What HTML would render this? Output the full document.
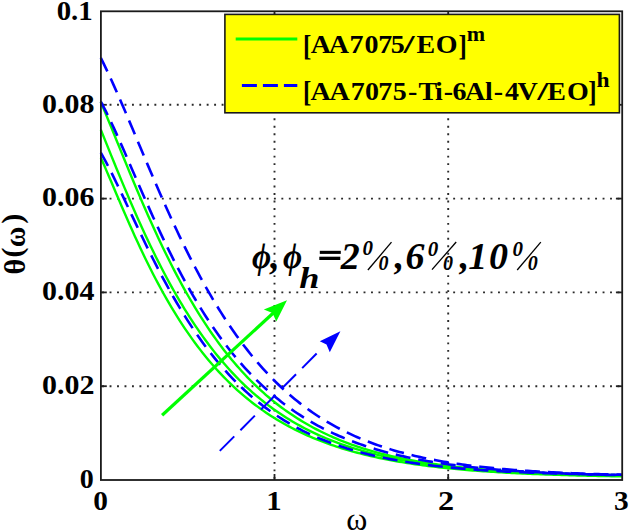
<!DOCTYPE html>
<html><head><meta charset="utf-8"><style>
html,body{margin:0;padding:0;background:#fff;}
body{width:629px;height:532px;overflow:hidden;position:relative;}
svg{position:absolute;left:0;top:0;}
text{font-family:"Liberation Serif",serif;}
</style></head><body>
<svg width="629" height="532" viewBox="0 0 629 532">
<line x1="102.10" y1="386.20" x2="621.90" y2="386.20" stroke="#2a2a2a" stroke-width="1.9" stroke-dasharray="1.9 5.57"/>
<line x1="102.10" y1="292.40" x2="621.90" y2="292.40" stroke="#2a2a2a" stroke-width="1.9" stroke-dasharray="1.9 5.57"/>
<line x1="102.10" y1="198.60" x2="621.90" y2="198.60" stroke="#2a2a2a" stroke-width="1.9" stroke-dasharray="1.9 5.57"/>
<line x1="102.10" y1="104.80" x2="621.90" y2="104.80" stroke="#2a2a2a" stroke-width="1.9" stroke-dasharray="1.9 5.57"/>
<line x1="274.50" y1="478.80" x2="274.50" y2="11.00" stroke="#2a2a2a" stroke-width="1.9" stroke-dasharray="1.9 5.57"/>
<line x1="448.20" y1="478.80" x2="448.20" y2="11.00" stroke="#2a2a2a" stroke-width="1.9" stroke-dasharray="1.9 5.57"/>
<line x1="100.80" y1="386.20" x2="106.80" y2="386.20" stroke="#222" stroke-width="1.8"/>
<line x1="615.90" y1="386.20" x2="621.90" y2="386.20" stroke="#222" stroke-width="1.8"/>
<line x1="100.80" y1="292.40" x2="106.80" y2="292.40" stroke="#222" stroke-width="1.8"/>
<line x1="615.90" y1="292.40" x2="621.90" y2="292.40" stroke="#222" stroke-width="1.8"/>
<line x1="100.80" y1="198.60" x2="106.80" y2="198.60" stroke="#222" stroke-width="1.8"/>
<line x1="615.90" y1="198.60" x2="621.90" y2="198.60" stroke="#222" stroke-width="1.8"/>
<line x1="100.80" y1="104.80" x2="106.80" y2="104.80" stroke="#222" stroke-width="1.8"/>
<line x1="615.90" y1="104.80" x2="621.90" y2="104.80" stroke="#222" stroke-width="1.8"/>
<line x1="274.50" y1="480.00" x2="274.50" y2="474.00" stroke="#222" stroke-width="1.8"/>
<line x1="274.50" y1="11.00" x2="274.50" y2="17.00" stroke="#222" stroke-width="1.8"/>
<line x1="448.20" y1="480.00" x2="448.20" y2="474.00" stroke="#222" stroke-width="1.8"/>
<line x1="448.20" y1="11.00" x2="448.20" y2="17.00" stroke="#222" stroke-width="1.8"/>
<polyline fill="none" stroke="#00ff00" stroke-width="2.4" stroke-linejoin="round" points="100.80,101.98 103.42,108.26 106.04,114.59 108.66,120.97 111.27,127.37 113.89,133.80 116.51,140.24 119.13,146.67 121.75,153.10 124.37,159.50 126.99,165.88 129.60,172.22 132.22,178.52 134.84,184.78 137.46,190.98 140.08,197.12 142.70,203.20 145.32,209.21 147.93,215.16 150.55,221.02 153.17,226.81 155.79,232.52 158.41,238.15 161.03,243.69 163.65,249.15 166.26,254.52 168.88,259.80 171.50,264.99 174.12,270.09 176.74,275.10 179.36,280.02 181.98,284.85 184.59,289.58 187.21,294.22 189.83,298.77 192.45,303.23 195.07,307.60 197.69,311.88 200.31,316.07 202.93,320.17 205.54,324.19 208.16,328.11 210.78,331.95 213.40,335.71 216.02,339.38 218.64,342.97 221.26,346.47 223.87,349.90 226.49,353.24 229.11,356.51 231.73,359.70 234.35,362.82 236.97,365.86 239.59,368.83 242.20,371.72 244.82,374.55 247.44,377.31 250.06,380.00 252.68,382.62 255.30,385.18 257.92,387.67 260.53,390.10 263.15,392.47 265.77,394.78 268.39,397.03 271.01,399.22 273.63,401.36 276.25,403.44 278.86,405.47 281.48,407.44 284.10,409.36 286.72,411.24 289.34,413.06 291.96,414.84 294.58,416.57 297.19,418.25 299.81,419.89 302.43,421.48 305.05,423.03 307.67,424.54 310.29,426.01 312.91,427.44 315.52,428.84 318.14,430.19 320.76,431.51 323.38,432.79 326.00,434.04 328.62,435.25 331.24,436.43 333.85,437.58 336.47,438.69 339.09,439.78 341.71,440.83 344.33,441.86 346.95,442.85 349.57,443.82 352.18,444.77 354.80,445.68 357.42,446.57 360.04,447.44 362.66,448.28 365.28,449.10 367.90,449.90 370.52,450.67 373.13,451.42 375.75,452.15 378.37,452.86 380.99,453.55 383.61,454.22 386.23,454.87 388.85,455.50 391.46,456.12 394.08,456.71 396.70,457.29 399.32,457.86 401.94,458.41 404.56,458.94 407.18,459.45 409.79,459.96 412.41,460.44 415.03,460.92 417.65,461.38 420.27,461.82 422.89,462.26 425.51,462.68 428.12,463.09 430.74,463.49 433.36,463.87 435.98,464.25 438.60,464.61 441.22,464.97 443.84,465.31 446.45,465.64 449.07,465.97 451.69,466.28 454.31,466.59 456.93,466.88 459.55,467.17 462.17,467.45 464.78,467.72 467.40,467.98 470.02,468.24 472.64,468.49 475.26,468.73 477.88,468.96 480.50,469.19 483.11,469.41 485.73,469.62 488.35,469.83 490.97,470.03 493.59,470.23 496.21,470.42 498.83,470.60 501.44,470.78 504.06,470.96 506.68,471.13 509.30,471.29 511.92,471.45 514.54,471.60 517.16,471.75 519.77,471.90 522.39,472.04 525.01,472.18 527.63,472.31 530.25,472.44 532.87,472.56 535.49,472.68 538.11,472.80 540.72,472.92 543.34,473.03 545.96,473.13 548.58,473.24 551.20,473.34 553.82,473.44 556.44,473.53 559.05,473.63 561.67,473.72 564.29,473.80 566.91,473.89 569.53,473.97 572.15,474.05 574.77,474.13 577.38,474.20 580.00,474.28 582.62,474.35 585.24,474.41 587.86,474.48 590.48,474.55 593.10,474.61 595.71,474.67 598.33,474.73 600.95,474.78 603.57,474.84 606.19,474.89 608.81,474.95 611.43,475.00 614.04,475.05 616.66,475.09 619.28,475.14 621.90,475.18"/>
<polyline fill="none" stroke="#00ff00" stroke-width="2.4" stroke-linejoin="round" points="100.80,129.63 103.42,136.14 106.04,142.65 108.66,149.15 111.27,155.62 113.89,162.06 116.51,168.47 119.13,174.83 121.75,181.13 124.37,187.39 126.99,193.58 129.60,199.71 132.22,205.76 134.84,211.75 137.46,217.66 140.08,223.48 142.70,229.23 145.32,234.89 147.93,240.47 150.55,245.95 153.17,251.35 155.79,256.66 158.41,261.88 161.03,267.01 163.65,272.04 166.26,276.99 168.88,281.84 171.50,286.59 174.12,291.26 176.74,295.83 179.36,300.32 181.98,304.71 184.59,309.01 187.21,313.22 189.83,317.35 192.45,321.38 195.07,325.33 197.69,329.19 200.31,332.97 202.93,336.66 205.54,340.27 208.16,343.80 210.78,347.25 213.40,350.62 216.02,353.91 218.64,357.12 221.26,360.26 223.87,363.33 226.49,366.32 229.11,369.24 231.73,372.09 234.35,374.87 236.97,377.58 239.59,380.23 242.20,382.81 244.82,385.33 247.44,387.79 250.06,390.18 252.68,392.52 255.30,394.79 257.92,397.01 260.53,399.18 263.15,401.28 265.77,403.34 268.39,405.34 271.01,407.29 273.63,409.19 276.25,411.04 278.86,412.84 281.48,414.60 284.10,416.31 286.72,417.97 289.34,419.59 291.96,421.17 294.58,422.71 297.19,424.21 299.81,425.66 302.43,427.08 305.05,428.46 307.67,429.81 310.29,431.12 312.91,432.39 315.52,433.63 318.14,434.83 320.76,436.01 323.38,437.15 326.00,438.26 328.62,439.34 331.24,440.39 333.85,441.41 336.47,442.41 339.09,443.37 341.71,444.31 344.33,445.23 346.95,446.12 349.57,446.99 352.18,447.83 354.80,448.65 357.42,449.44 360.04,450.22 362.66,450.97 365.28,451.70 367.90,452.42 370.52,453.11 373.13,453.78 375.75,454.43 378.37,455.07 380.99,455.69 383.61,456.29 386.23,456.87 388.85,457.44 391.46,457.99 394.08,458.53 396.70,459.05 399.32,459.56 401.94,460.05 404.56,460.53 407.18,461.00 409.79,461.45 412.41,461.89 415.03,462.32 417.65,462.73 420.27,463.13 422.89,463.53 425.51,463.91 428.12,464.28 430.74,464.64 433.36,464.99 435.98,465.33 438.60,465.66 441.22,465.98 443.84,466.29 446.45,466.59 449.07,466.88 451.69,467.17 454.31,467.45 456.93,467.72 459.55,467.98 462.17,468.23 464.78,468.48 467.40,468.72 470.02,468.95 472.64,469.18 475.26,469.40 477.88,469.61 480.50,469.82 483.11,470.02 485.73,470.22 488.35,470.41 490.97,470.59 493.59,470.77 496.21,470.95 498.83,471.12 501.44,471.28 504.06,471.44 506.68,471.60 509.30,471.75 511.92,471.89 514.54,472.03 517.16,472.17 519.77,472.31 522.39,472.44 525.01,472.56 527.63,472.68 530.25,472.80 532.87,472.92 535.49,473.03 538.11,473.14 540.72,473.25 543.34,473.35 545.96,473.45 548.58,473.55 551.20,473.64 553.82,473.73 556.44,473.82 559.05,473.91 561.67,473.99 564.29,474.07 566.91,474.15 569.53,474.23 572.15,474.30 574.77,474.37 577.38,474.44 580.00,474.51 582.62,474.58 585.24,474.64 587.86,474.70 590.48,474.76 593.10,474.82 595.71,474.88 598.33,474.94 600.95,474.99 603.57,475.04 606.19,475.09 608.81,475.14 611.43,475.19 614.04,475.24 616.66,475.28 619.28,475.32 621.90,475.37"/>
<polyline fill="none" stroke="#00ff00" stroke-width="2.4" stroke-linejoin="round" points="100.80,157.72 103.42,163.60 106.04,169.61 108.66,175.69 111.27,181.83 113.89,187.99 116.51,194.16 119.13,200.31 121.75,206.42 124.37,212.49 126.99,218.51 129.60,224.46 132.22,230.34 134.84,236.14 137.46,241.85 140.08,247.48 142.70,253.01 145.32,258.45 147.93,263.79 150.55,269.03 153.17,274.17 155.79,279.21 158.41,284.15 161.03,288.98 163.65,293.72 166.26,298.35 168.88,302.89 171.50,307.32 174.12,311.66 176.74,315.90 179.36,320.04 181.98,324.09 184.59,328.04 187.21,331.90 189.83,335.67 192.45,339.35 195.07,342.95 197.69,346.45 200.31,349.87 202.93,353.21 205.54,356.47 208.16,359.65 210.78,362.75 213.40,365.77 216.02,368.71 218.64,371.59 221.26,374.39 223.87,377.12 226.49,379.78 229.11,382.37 231.73,384.90 234.35,387.37 236.97,389.77 239.59,392.11 242.20,394.39 244.82,396.61 247.44,398.77 250.06,400.88 252.68,402.93 255.30,404.93 257.92,406.88 260.53,408.78 263.15,410.63 265.77,412.43 268.39,414.18 271.01,415.89 273.63,417.55 276.25,419.17 278.86,420.75 281.48,422.28 284.10,423.77 286.72,425.23 289.34,426.65 291.96,428.03 294.58,429.37 297.19,430.68 299.81,431.95 302.43,433.19 305.05,434.39 307.67,435.57 310.29,436.71 312.91,437.82 315.52,438.90 318.14,439.96 320.76,440.98 323.38,441.98 326.00,442.95 328.62,443.90 331.24,444.82 333.85,445.71 336.47,446.58 339.09,447.43 341.71,448.26 344.33,449.06 346.95,449.84 349.57,450.60 352.18,451.34 354.80,452.06 357.42,452.77 360.04,453.45 362.66,454.11 365.28,454.76 367.90,455.39 370.52,456.00 373.13,456.59 375.75,457.17 378.37,457.74 380.99,458.28 383.61,458.82 386.23,459.34 388.85,459.84 391.46,460.33 394.08,460.81 396.70,461.28 399.32,461.73 401.94,462.17 404.56,462.60 407.18,463.01 409.79,463.42 412.41,463.81 415.03,464.20 417.65,464.57 420.27,464.93 422.89,465.29 425.51,465.63 428.12,465.97 430.74,466.29 433.36,466.61 435.98,466.92 438.60,467.22 441.22,467.51 443.84,467.79 446.45,468.07 449.07,468.33 451.69,468.60 454.31,468.85 456.93,469.10 459.55,469.34 462.17,469.57 464.78,469.80 467.40,470.02 470.02,470.23 472.64,470.44 475.26,470.65 477.88,470.84 480.50,471.04 483.11,471.23 485.73,471.41 488.35,471.58 490.97,471.76 493.59,471.92 496.21,472.09 498.83,472.25 501.44,472.40 504.06,472.55 506.68,472.70 509.30,472.84 511.92,472.98 514.54,473.11 517.16,473.24 519.77,473.37 522.39,473.49 525.01,473.61 527.63,473.73 530.25,473.85 532.87,473.96 535.49,474.06 538.11,474.17 540.72,474.27 543.34,474.37 545.96,474.47 548.58,474.56 551.20,474.65 553.82,474.74 556.44,474.83 559.05,474.91 561.67,474.99 564.29,475.07 566.91,475.15 569.53,475.22 572.15,475.30 574.77,475.37 577.38,475.44 580.00,475.50 582.62,475.57 585.24,475.63 587.86,475.70 590.48,475.76 593.10,475.81 595.71,475.87 598.33,475.93 600.95,475.98 603.57,476.03 606.19,476.08 608.81,476.13 611.43,476.18 614.04,476.23 616.66,476.27 619.28,476.32 621.90,476.36"/>
<polyline fill="none" stroke="#0000ff" stroke-width="2.6" stroke-dasharray="15 7.9" points="100.80,57.92 103.42,63.18 106.04,68.59 108.66,74.14 111.27,79.81 113.89,85.59 116.51,91.47 119.13,97.43 121.75,103.46 124.37,109.55 126.99,115.69 129.60,121.87 132.22,128.07 134.84,134.29 137.46,140.52 140.08,146.75 142.70,152.98 145.32,159.18 147.93,165.37 150.55,171.52 153.17,177.64 155.79,183.71 158.41,189.74 161.03,195.72 163.65,201.65 166.26,207.51 168.88,213.31 171.50,219.05 174.12,224.71 176.74,230.30 179.36,235.82 181.98,241.26 184.59,246.63 187.21,251.91 189.83,257.11 192.45,262.23 195.07,267.26 197.69,272.21 200.31,277.07 202.93,281.85 205.54,286.55 208.16,291.15 210.78,295.67 213.40,300.11 216.02,304.46 218.64,308.72 221.26,312.90 223.87,317.00 226.49,321.01 229.11,324.94 231.73,328.78 234.35,332.55 236.97,336.23 239.59,339.83 242.20,343.36 244.82,346.80 247.44,350.17 250.06,353.46 252.68,356.68 255.30,359.83 257.92,362.90 260.53,365.90 263.15,368.83 265.77,371.69 268.39,374.48 271.01,377.21 273.63,379.87 276.25,382.47 278.86,385.00 281.48,387.47 284.10,389.88 286.72,392.23 289.34,394.52 291.96,396.76 294.58,398.94 297.19,401.06 299.81,403.13 302.43,405.15 305.05,407.12 307.67,409.04 310.29,410.90 312.91,412.72 315.52,414.49 318.14,416.22 320.76,417.90 323.38,419.53 326.00,421.13 328.62,422.68 331.24,424.19 333.85,425.66 336.47,427.09 339.09,428.49 341.71,429.84 344.33,431.16 346.95,432.45 349.57,433.70 352.18,434.91 354.80,436.10 357.42,437.25 360.04,438.37 362.66,439.46 365.28,440.51 367.90,441.55 370.52,442.55 373.13,443.52 375.75,444.47 378.37,445.39 380.99,446.29 383.61,447.16 386.23,448.01 388.85,448.83 391.46,449.63 394.08,450.41 396.70,451.17 399.32,451.90 401.94,452.62 404.56,453.31 407.18,453.99 409.79,454.65 412.41,455.28 415.03,455.90 417.65,456.51 420.27,457.09 422.89,457.66 425.51,458.21 428.12,458.75 430.74,459.27 433.36,459.78 435.98,460.27 438.60,460.75 441.22,461.22 443.84,461.67 446.45,462.11 449.07,462.53 451.69,462.95 454.31,463.35 456.93,463.74 459.55,464.12 462.17,464.48 464.78,464.84 467.40,465.19 470.02,465.53 472.64,465.85 475.26,466.17 477.88,466.48 480.50,466.78 483.11,467.07 485.73,467.36 488.35,467.63 490.97,467.90 493.59,468.16 496.21,468.41 498.83,468.65 501.44,468.89 504.06,469.12 506.68,469.34 509.30,469.56 511.92,469.77 514.54,469.97 517.16,470.17 519.77,470.36 522.39,470.55 525.01,470.73 527.63,470.91 530.25,471.08 532.87,471.24 535.49,471.40 538.11,471.56 540.72,471.71 543.34,471.86 545.96,472.00 548.58,472.14 551.20,472.27 553.82,472.40 556.44,472.53 559.05,472.65 561.67,472.77 564.29,472.89 566.91,473.00 569.53,473.11 572.15,473.22 574.77,473.32 577.38,473.42 580.00,473.51 582.62,473.61 585.24,473.70 587.86,473.79 590.48,473.87 593.10,473.96 595.71,474.04 598.33,474.11 600.95,474.19 603.57,474.26 606.19,474.34 608.81,474.40 611.43,474.47 614.04,474.54 616.66,474.60 619.28,474.66 621.90,474.72"/>
<polyline fill="none" stroke="#0000ff" stroke-width="2.6" stroke-dasharray="15 7.9" points="100.80,101.64 103.42,106.56 106.04,111.69 108.66,117.01 111.27,122.50 113.89,128.13 116.51,133.87 119.13,139.70 121.75,145.61 124.37,151.58 126.99,157.59 129.60,163.62 132.22,169.66 134.84,175.70 137.46,181.73 140.08,187.74 142.70,193.72 145.32,199.66 147.93,205.55 150.55,211.39 153.17,217.17 155.79,222.88 158.41,228.53 161.03,234.11 163.65,239.61 166.26,245.03 168.88,250.37 171.50,255.63 174.12,260.80 176.74,265.89 179.36,270.89 181.98,275.80 184.59,280.63 187.21,285.36 189.83,290.00 192.45,294.56 195.07,299.02 197.69,303.40 200.31,307.69 202.93,311.88 205.54,316.00 208.16,320.02 210.78,323.96 213.40,327.81 216.02,331.58 218.64,335.27 221.26,338.87 223.87,342.39 226.49,345.83 229.11,349.20 231.73,352.49 234.35,355.70 236.97,358.83 239.59,361.89 242.20,364.88 244.82,367.80 247.44,370.65 250.06,373.43 252.68,376.14 255.30,378.79 257.92,381.37 260.53,383.89 263.15,386.35 265.77,388.75 268.39,391.08 271.01,393.36 273.63,395.58 276.25,397.75 278.86,399.86 281.48,401.92 284.10,403.93 286.72,405.88 289.34,407.79 291.96,409.65 294.58,411.46 297.19,413.22 299.81,414.94 302.43,416.61 305.05,418.24 307.67,419.83 310.29,421.38 312.91,422.88 315.52,424.35 318.14,425.78 320.76,427.17 323.38,428.53 326.00,429.85 328.62,431.13 331.24,432.38 333.85,433.60 336.47,434.79 339.09,435.94 341.71,437.06 344.33,438.16 346.95,439.22 349.57,440.26 352.18,441.27 354.80,442.25 357.42,443.21 360.04,444.14 362.66,445.04 365.28,445.92 367.90,446.78 370.52,447.61 373.13,448.43 375.75,449.22 378.37,449.98 380.99,450.73 383.61,451.46 386.23,452.17 388.85,452.86 391.46,453.53 394.08,454.18 396.70,454.81 399.32,455.43 401.94,456.03 404.56,456.62 407.18,457.18 409.79,457.74 412.41,458.27 415.03,458.80 417.65,459.30 420.27,459.80 422.89,460.28 425.51,460.75 428.12,461.20 430.74,461.65 433.36,462.08 435.98,462.50 438.60,462.90 441.22,463.30 443.84,463.68 446.45,464.06 449.07,464.42 451.69,464.78 454.31,465.12 456.93,465.46 459.55,465.78 462.17,466.10 464.78,466.41 467.40,466.71 470.02,467.00 472.64,467.28 475.26,467.56 477.88,467.83 480.50,468.09 483.11,468.34 485.73,468.59 488.35,468.82 490.97,469.06 493.59,469.28 496.21,469.50 498.83,469.72 501.44,469.93 504.06,470.13 506.68,470.32 509.30,470.52 511.92,470.70 514.54,470.88 517.16,471.06 519.77,471.23 522.39,471.39 525.01,471.56 527.63,471.71 530.25,471.86 532.87,472.01 535.49,472.16 538.11,472.30 540.72,472.43 543.34,472.57 545.96,472.69 548.58,472.82 551.20,472.94 553.82,473.06 556.44,473.17 559.05,473.29 561.67,473.39 564.29,473.50 566.91,473.60 569.53,473.70 572.15,473.80 574.77,473.89 577.38,473.98 580.00,474.07 582.62,474.16 585.24,474.24 587.86,474.33 590.48,474.41 593.10,474.48 595.71,474.56 598.33,474.63 600.95,474.70 603.57,474.77 606.19,474.84 608.81,474.90 611.43,474.97 614.04,475.03 616.66,475.09 619.28,475.15 621.90,475.20"/>
<polyline fill="none" stroke="#0000ff" stroke-width="2.6" stroke-dasharray="15 7.9" points="100.80,152.67 103.42,157.33 106.04,162.18 108.66,167.19 111.27,172.34 113.89,177.61 116.51,182.97 119.13,188.41 121.75,193.90 124.37,199.42 126.99,204.97 129.60,210.53 132.22,216.09 134.84,221.63 137.46,227.14 140.08,232.62 142.70,238.06 145.32,243.46 147.93,248.79 150.55,254.07 153.17,259.28 155.79,264.42 158.41,269.49 161.03,274.48 163.65,279.40 166.26,284.23 168.88,288.98 171.50,293.65 174.12,298.23 176.74,302.72 179.36,307.13 181.98,311.45 184.59,315.69 187.21,319.83 189.83,323.89 192.45,327.86 195.07,331.75 197.69,335.55 200.31,339.27 202.93,342.90 205.54,346.45 208.16,349.92 210.78,353.30 213.40,356.61 216.02,359.83 218.64,362.98 221.26,366.06 223.87,369.05 226.49,371.98 229.11,374.83 231.73,377.61 234.35,380.32 236.97,382.96 239.59,385.54 242.20,388.05 244.82,390.49 247.44,392.87 250.06,395.19 252.68,397.45 255.30,399.65 257.92,401.79 260.53,403.88 263.15,405.91 265.77,407.88 268.39,409.81 271.01,411.68 273.63,413.50 276.25,415.27 278.86,417.00 281.48,418.67 284.10,420.31 286.72,421.89 289.34,423.44 291.96,424.94 294.58,426.40 297.19,427.82 299.81,429.20 302.43,430.55 305.05,431.85 307.67,433.12 310.29,434.36 312.91,435.56 315.52,436.72 318.14,437.86 320.76,438.96 323.38,440.03 326.00,441.07 328.62,442.08 331.24,443.07 333.85,444.02 336.47,444.95 339.09,445.85 341.71,446.73 344.33,447.58 346.95,448.41 349.57,449.21 352.18,449.99 354.80,450.75 357.42,451.49 360.04,452.21 362.66,452.90 365.28,453.58 367.90,454.23 370.52,454.87 373.13,455.49 375.75,456.09 378.37,456.67 380.99,457.24 383.61,457.79 386.23,458.33 388.85,458.85 391.46,459.35 394.08,459.84 396.70,460.32 399.32,460.78 401.94,461.23 404.56,461.66 407.18,462.09 409.79,462.50 412.41,462.90 415.03,463.28 417.65,463.66 420.27,464.02 422.89,464.38 425.51,464.72 428.12,465.05 430.74,465.38 433.36,465.69 435.98,466.00 438.60,466.29 441.22,466.58 443.84,466.86 446.45,467.13 449.07,467.40 451.69,467.65 454.31,467.90 456.93,468.14 459.55,468.37 462.17,468.60 464.78,468.82 467.40,469.04 470.02,469.24 472.64,469.44 475.26,469.64 477.88,469.83 480.50,470.01 483.11,470.19 485.73,470.36 488.35,470.53 490.97,470.70 493.59,470.85 496.21,471.01 498.83,471.16 501.44,471.30 504.06,471.44 506.68,471.58 509.30,471.71 511.92,471.84 514.54,471.96 517.16,472.09 519.77,472.20 522.39,472.32 525.01,472.43 527.63,472.53 530.25,472.64 532.87,472.74 535.49,472.84 538.11,472.93 540.72,473.02 543.34,473.11 545.96,473.20 548.58,473.29 551.20,473.37 553.82,473.45 556.44,473.52 559.05,473.60 561.67,473.67 564.29,473.74 566.91,473.81 569.53,473.88 572.15,473.94 574.77,474.00 577.38,474.06 580.00,474.12 582.62,474.18 585.24,474.23 587.86,474.29 590.48,474.34 593.10,474.39 595.71,474.44 598.33,474.49 600.95,474.53 603.57,474.58 606.19,474.62 608.81,474.66 611.43,474.70 614.04,474.74 616.66,474.78 619.28,474.82 621.90,474.85"/>
<rect x="100.9" y="11.3" width="521.3" height="468.7" fill="none" stroke="#1a1a1a" stroke-width="1.8"/>
<line x1="162.1" y1="415.2" x2="276" y2="310.5" stroke="#00ff00" stroke-width="3.2"/>
<polygon points="287,300.3 263.8,309.6 272.5,313 276.3,321.5" fill="#00ff00"/>
<line x1="219.8" y1="450.9" x2="317.8" y2="352.4" stroke="#0000ff" stroke-width="2" stroke-dasharray="20.5 8.7"/>
<polygon points="340.4,331.2 319.8,341.2 326.5,344.5 329.8,352.3" fill="#0000ff"/>
<rect x="224.9" y="14.4" width="394.5" height="98.4" fill="#ffff00" stroke="#1a1a1a" stroke-width="1.6"/>
<line x1="235.7" y1="39.0" x2="297.3" y2="39.0" stroke="#00ff00" stroke-width="2.9"/>
<line x1="241.9" y1="85.5" x2="297.3" y2="85.5" stroke="#0000ff" stroke-width="2.9" stroke-dasharray="15 6"/>
<g font-weight="bold" font-size="28" fill="#000">
<text x="56.7" y="20.2" transform="translate(57.7,0) scale(1.03,1) translate(-57.7,0)">0.1</text>
<text x="42.1" y="112.7" transform="translate(43.1,0) scale(1.07,1) translate(-43.1,0)">0.08</text>
<text x="42.1" y="206.2" transform="translate(43.1,0) scale(1.07,1) translate(-43.1,0)">0.06</text>
<text x="42.1" y="300.0" transform="translate(43.1,0) scale(1.07,1) translate(-43.1,0)">0.04</text>
<text x="42.1" y="393.8" transform="translate(43.1,0) scale(1.07,1) translate(-43.1,0)">0.02</text>
<text x="79.7" y="488.4">0</text>
</g>
<g font-weight="bold" font-size="28" fill="#000">
<text x="93.2" y="509.6" transform="translate(94.2,0) scale(1.05,1) translate(-94.2,0)">0</text>
<text x="266.4" y="509.6" transform="translate(268.4,0) scale(1.1,1) translate(-268.4,0)">1</text>
<text x="438.2" y="509.6" transform="translate(439.2,0) scale(1.15,1) translate(-439.2,0)">2</text>
<text x="614" y="509.6" transform="translate(615,0) scale(1.05,1) translate(-615,0)">3</text>
</g>
<text x="346.2" y="529.5" font-size="32">&#969;</text>
<g transform="translate(24.5,274.4) rotate(-90)" font-weight="bold" font-size="30">
<text x="0" y="0">&#952;</text>
<text x="16.9" y="-2.2">(</text>
<text x="27" y="0" transform="translate(28,0) scale(0.94,1) translate(-28,0)">&#969;</text>
<text x="50.6" y="-2.2">)</text>
</g>
<g font-weight="bold" font-size="25">
<text x="310.8" y="53.4" transform="translate(310.8,0) scale(1.12,1) translate(-310.8,0)" >A</text><text x="328.8" y="53.4" transform="translate(328.8,0) scale(1.12,1) translate(-328.8,0)" >A</text><text x="349.6" y="53.4" transform="translate(350.6,0) scale(1.12,1) translate(-350.6,0)" >7</text><text x="364.6" y="53.4" transform="translate(365.6,0) scale(1.12,1) translate(-365.6,0)" >0</text><text x="378.3" y="53.4" transform="translate(379.3,0) scale(1.12,1) translate(-379.3,0)" >7</text><text x="390.8" y="53.4" transform="translate(391.8,0) scale(1.12,1) translate(-391.8,0)" >5</text><text x="416.6" y="53.4" transform="translate(416.6,0) scale(1.12,1) translate(-416.6,0)" >E</text><text x="436.0" y="53.4" transform="translate(437.0,0) scale(1.12,1) translate(-437.0,0)" >O</text><text x="403.6" y="53.4" transform="translate(403.6,0) scale(1.6,1) translate(-403.6,0)" >/</text>
<text x="303.1" y="53.4" transform="translate(0,36.3) scale(1,1.14) translate(0,-36.3)">[</text><text x="458.5" y="53.4" transform="translate(0,36.3) scale(1,1.14) translate(0,-36.3)">]</text>
<text x="310.6" y="99.8" transform="translate(310.6,0) scale(1.12,1) translate(-310.6,0)" >A</text><text x="329.5" y="99.8" transform="translate(329.5,0) scale(1.12,1) translate(-329.5,0)" >A</text><text x="351.0" y="99.8" transform="translate(352.0,0) scale(1.12,1) translate(-352.0,0)" >7</text><text x="365.2" y="99.8" transform="translate(366.2,0) scale(1.12,1) translate(-366.2,0)" >0</text><text x="378.5" y="99.8" transform="translate(379.5,0) scale(1.12,1) translate(-379.5,0)" >7</text><text x="393.0" y="99.8" transform="translate(394.0,0) scale(1.12,1) translate(-394.0,0)" >5</text><text x="408.0" y="99.8" transform="translate(409.0,0) scale(1.12,1) translate(-409.0,0)" >-</text><text x="418.6" y="99.8" transform="translate(418.6,0) scale(1.12,1) translate(-418.6,0)" >T</text><text x="435.1" y="99.8" transform="translate(436.1,0) scale(1.12,1) translate(-436.1,0)" >i</text><text x="443.8" y="99.8" transform="translate(444.8,0) scale(1.12,1) translate(-444.8,0)" >-</text><text x="452.6" y="99.8" transform="translate(453.6,0) scale(1.12,1) translate(-453.6,0)" >6</text><text x="464.9" y="99.8" transform="translate(464.9,0) scale(1.12,1) translate(-464.9,0)" >A</text><text x="485.0" y="99.8" transform="translate(485.0,0) scale(1.12,1) translate(-485.0,0)" >l</text><text x="494.0" y="99.8" transform="translate(495.0,0) scale(1.12,1) translate(-495.0,0)" >-</text><text x="505.0" y="99.8" transform="translate(505.0,0) scale(1.12,1) translate(-505.0,0)" >4</text><text x="517.5" y="99.8" transform="translate(517.5,0) scale(1.12,1) translate(-517.5,0)" >V</text><text x="547.3" y="99.8" transform="translate(547.3,0) scale(1.12,1) translate(-547.3,0)" >E</text><text x="567.2" y="99.8" transform="translate(568.2,0) scale(1.12,1) translate(-568.2,0)" >O</text><text x="537.3" y="99.8" transform="translate(537.3,0) scale(1.6,1) translate(-537.3,0)" >/</text>
<text x="302.9" y="99.8" transform="translate(0,82.8) scale(1,1.14) translate(0,-82.8)">[</text><text x="588.2" y="99.8" transform="translate(0,82.8) scale(1,1.14) translate(0,-82.8)">]</text>
<text x="466.8" y="40.6" font-size="22">m</text>
<text x="596.5" y="87.3" font-size="21" transform="translate(596.5,0) scale(1.12,1) translate(-596.5,0)">h</text>
</g>
<g font-weight="bold" font-style="italic" font-size="38" fill="#000">
<text x="251.9" y="268.5" font-size="36" transform="translate(252.9,0) scale(0.92,1) translate(-252.9,0)">&#981;</text>
<text x="270.2" y="269.3">,</text>
<text x="282.8" y="268.5" font-size="36" transform="translate(283.8,0) scale(0.92,1) translate(-283.8,0)">&#981;</text>
<text x="299.4" y="287.6" font-size="29" transform="translate(300.4,0) scale(1.25,1) translate(-300.4,0)">h</text>
<rect x="319.8" y="250.8" width="21" height="3.1" fill="#000"/>
<rect x="319.3" y="256.7" width="21" height="3.3" fill="#000"/>
<text x="340.8" y="269.3">2</text>
<text x="362.6" y="255.3" font-size="21">0</text><text x="378.4" y="270.0" font-size="20">0</text><line x1="367.9" y1="270" x2="391.5" y2="242.2" stroke="#000" stroke-width="1.3"/>
<text x="394.7" y="269.3">,</text>
<text x="405.5" y="269.3">6</text>
<text x="427.8" y="255.5" font-size="21">0</text><text x="443.0" y="270.0" font-size="20">0</text><line x1="432" y1="269.6" x2="456.2" y2="242" stroke="#000" stroke-width="1.3"/>
<text x="459.7" y="269.3">,</text>
<text x="468.3" y="269.3">1</text>
<text x="489" y="269.3">0</text>
<text x="512.6" y="256.3" font-size="21">0</text><text x="527.7" y="270.0" font-size="20">0</text><line x1="517.2" y1="270" x2="540.8" y2="242.2" stroke="#000" stroke-width="1.3"/>
</g>
</svg>
</body></html>
